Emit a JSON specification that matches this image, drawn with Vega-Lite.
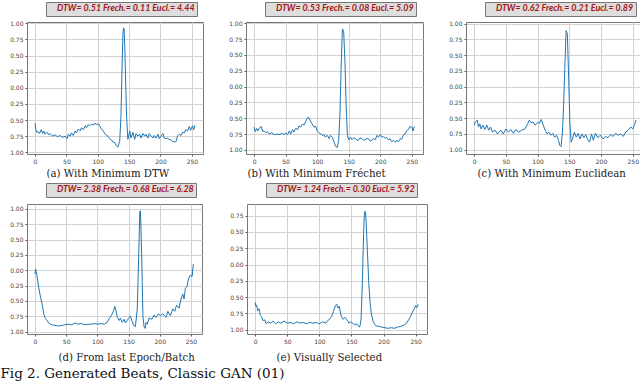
{
  "$schema": "https://vega.github.io/schema/vega-lite/v6.json",
  "background": "white",
  "padding": {"left": 0, "top": 1, "right": 0, "bottom": 0},
  "config": {
    "font": "DejaVu Serif",
    "view": {"stroke": "#777777", "strokeWidth": 1},
    "axis": {"grid": true, "gridColor": "#d2d2d2", "gridWidth": 1, "domain": false, "tickSize": 2, "tickColor": "#555555", "labelFont": "DejaVu Sans", "labelFontSize": 6, "labelColor": "#444444", "labelPadding": 2, "titleFont": "DejaVu Serif", "titleFontSize": 10.2, "titleFontWeight": "normal", "titleColor": "#222222", "titleAlign": "left"},
    "axisY": {"minExtent": 18},
    "legend": {"orient": "none", "legendX": 19, "legendY": -20, "title": null, "labelFont": "Lato", "labelFontSize": 8.9, "labelFontStyle": "italic", "labelFontWeight": "bold", "labelColor": "#a31515", "labelLimit": 400, "symbolSize": 0, "symbolOpacity": 0, "symbolStrokeWidth": 0, "labelOffset": 0, "padding": 2, "fillColor": "#dedede", "strokeColor": "#777777"}
  },
  "datasets": {
    "a": [
      {"x":0,"y":-0.55},{"x":2,"y":-0.69},{"x":5,"y":-0.68},{"x":7,"y":-0.71},{"x":10,"y":-0.65},{"x":12,"y":-0.71},{"x":14,"y":-0.67},{"x":16,"y":-0.72},{"x":19,"y":-0.69},{"x":22,"y":-0.73},{"x":24,"y":-0.71},{"x":28,"y":-0.75},{"x":32,"y":-0.73},{"x":36,"y":-0.76},{"x":40,"y":-0.74},{"x":44,"y":-0.77},{"x":48,"y":-0.75},{"x":51,"y":-0.79},{"x":53,"y":-0.72},{"x":56,"y":-0.75},{"x":58,"y":-0.70},{"x":61,"y":-0.74},{"x":64,"y":-0.67},{"x":66,"y":-0.70},{"x":69,"y":-0.64},{"x":72,"y":-0.67},{"x":74,"y":-0.62},{"x":77,"y":-0.65},{"x":80,"y":-0.59},{"x":82,"y":-0.62},{"x":85,"y":-0.57},{"x":87,"y":-0.59},{"x":90,"y":-0.56},{"x":93,"y":-0.58},{"x":95,"y":-0.55},{"x":98,"y":-0.57},{"x":101,"y":-0.56},{"x":103,"y":-0.59},{"x":106,"y":-0.64},{"x":109,"y":-0.67},{"x":111,"y":-0.71},{"x":114,"y":-0.73},{"x":116,"y":-0.75},{"x":119,"y":-0.79},{"x":122,"y":-0.81},{"x":124,"y":-0.84},{"x":127,"y":-0.85},{"x":130,"y":-0.90},{"x":132,"y":-0.92},{"x":135,"y":-0.83},{"x":137,"y":-0.44},{"x":139,"y":0.40},{"x":140,"y":0.80},{"x":141,"y":0.93},{"x":142,"y":0.91},{"x":143,"y":0.65},{"x":145,"y":-0.10},{"x":146,"y":-0.45},{"x":148,"y":-0.80},{"x":151,"y":-0.67},{"x":153,"y":-0.78},{"x":156,"y":-0.69},{"x":159,"y":-0.80},{"x":161,"y":-0.71},{"x":164,"y":-0.75},{"x":167,"y":-0.72},{"x":169,"y":-0.78},{"x":172,"y":-0.71},{"x":175,"y":-0.75},{"x":177,"y":-0.72},{"x":180,"y":-0.78},{"x":182,"y":-0.71},{"x":185,"y":-0.75},{"x":188,"y":-0.78},{"x":190,"y":-0.74},{"x":193,"y":-0.78},{"x":196,"y":-0.72},{"x":198,"y":-0.79},{"x":201,"y":-0.75},{"x":204,"y":-0.71},{"x":206,"y":-0.78},{"x":209,"y":-0.79},{"x":211,"y":-0.78},{"x":214,"y":-0.80},{"x":217,"y":-0.81},{"x":219,"y":-0.83},{"x":222,"y":-0.84},{"x":225,"y":-0.83},{"x":227,"y":-0.75},{"x":230,"y":-0.72},{"x":233,"y":-0.74},{"x":235,"y":-0.69},{"x":238,"y":-0.70},{"x":240,"y":-0.65},{"x":243,"y":-0.67},{"x":246,"y":-0.60},{"x":248,"y":-0.66},{"x":251,"y":-0.59},{"x":253,"y":-0.65},{"x":255,"y":-0.58}
    ],
    "b": [
      {"x":0,"y":-0.64},{"x":2,"y":-0.71},{"x":4,"y":-0.66},{"x":6,"y":-0.70},{"x":8,"y":-0.66},{"x":11,"y":-0.63},{"x":14,"y":-0.71},{"x":16,"y":-0.70},{"x":19,"y":-0.73},{"x":21,"y":-0.71},{"x":24,"y":-0.75},{"x":28,"y":-0.73},{"x":32,"y":-0.76},{"x":36,"y":-0.75},{"x":40,"y":-0.76},{"x":44,"y":-0.74},{"x":48,"y":-0.76},{"x":50,"y":-0.73},{"x":53,"y":-0.76},{"x":56,"y":-0.70},{"x":58,"y":-0.75},{"x":61,"y":-0.68},{"x":63,"y":-0.72},{"x":66,"y":-0.66},{"x":69,"y":-0.68},{"x":71,"y":-0.62},{"x":74,"y":-0.64},{"x":77,"y":-0.59},{"x":79,"y":-0.61},{"x":82,"y":-0.55},{"x":84,"y":-0.51},{"x":86,"y":-0.48},{"x":88,"y":-0.51},{"x":90,"y":-0.56},{"x":92,"y":-0.59},{"x":95,"y":-0.64},{"x":98,"y":-0.63},{"x":100,"y":-0.70},{"x":103,"y":-0.73},{"x":106,"y":-0.75},{"x":108,"y":-0.77},{"x":111,"y":-0.76},{"x":113,"y":-0.80},{"x":116,"y":-0.77},{"x":119,"y":-0.82},{"x":121,"y":-0.77},{"x":124,"y":-0.80},{"x":127,"y":-0.88},{"x":129,"y":-0.94},{"x":132,"y":-0.96},{"x":134,"y":-0.85},{"x":136,"y":-0.48},{"x":138,"y":0.31},{"x":140,"y":0.91},{"x":142,"y":0.88},{"x":144,"y":0.41},{"x":146,"y":-0.33},{"x":148,"y":-0.77},{"x":150,"y":-0.84},{"x":153,"y":-0.80},{"x":155,"y":-0.84},{"x":158,"y":-0.81},{"x":161,"y":-0.82},{"x":163,"y":-0.85},{"x":166,"y":-0.84},{"x":168,"y":-0.81},{"x":171,"y":-0.82},{"x":174,"y":-0.85},{"x":176,"y":-0.84},{"x":179,"y":-0.82},{"x":182,"y":-0.83},{"x":184,"y":-0.86},{"x":187,"y":-0.85},{"x":189,"y":-0.82},{"x":192,"y":-0.84},{"x":195,"y":-0.77},{"x":197,"y":-0.80},{"x":200,"y":-0.76},{"x":203,"y":-0.80},{"x":205,"y":-0.79},{"x":208,"y":-0.82},{"x":210,"y":-0.80},{"x":213,"y":-0.84},{"x":216,"y":-0.83},{"x":218,"y":-0.87},{"x":221,"y":-0.85},{"x":224,"y":-0.88},{"x":226,"y":-0.85},{"x":229,"y":-0.87},{"x":232,"y":-0.82},{"x":234,"y":-0.83},{"x":237,"y":-0.76},{"x":239,"y":-0.75},{"x":242,"y":-0.70},{"x":245,"y":-0.67},{"x":247,"y":-0.63},{"x":250,"y":-0.64},{"x":252,"y":-0.70},{"x":254,"y":-0.63}
    ],
    "c": [
      {"x":0,"y":-0.61},{"x":2,"y":-0.56},{"x":5,"y":-0.53},{"x":7,"y":-0.64},{"x":9,"y":-0.59},{"x":11,"y":-0.67},{"x":14,"y":-0.61},{"x":17,"y":-0.68},{"x":20,"y":-0.61},{"x":23,"y":-0.69},{"x":26,"y":-0.64},{"x":29,"y":-0.72},{"x":33,"y":-0.69},{"x":37,"y":-0.75},{"x":42,"y":-0.69},{"x":46,"y":-0.75},{"x":50,"y":-0.67},{"x":54,"y":-0.72},{"x":58,"y":-0.68},{"x":62,"y":-0.74},{"x":66,"y":-0.68},{"x":70,"y":-0.72},{"x":75,"y":-0.69},{"x":80,"y":-0.67},{"x":84,"y":-0.60},{"x":87,"y":-0.53},{"x":90,"y":-0.57},{"x":93,"y":-0.56},{"x":96,"y":-0.61},{"x":100,"y":-0.57},{"x":103,"y":-0.58},{"x":106,"y":-0.52},{"x":109,"y":-0.61},{"x":112,"y":-0.69},{"x":115,"y":-0.75},{"x":118,"y":-0.72},{"x":121,"y":-0.77},{"x":124,"y":-0.74},{"x":127,"y":-0.80},{"x":130,"y":-0.77},{"x":133,"y":-0.85},{"x":135,"y":-0.93},{"x":137,"y":-0.95},{"x":139,"y":-0.75},{"x":141,"y":-0.32},{"x":143,"y":0.31},{"x":145,"y":0.89},{"x":147,"y":0.84},{"x":149,"y":0.15},{"x":151,"y":-0.59},{"x":153,"y":-0.88},{"x":155,"y":-0.83},{"x":158,"y":-0.72},{"x":161,"y":-0.80},{"x":164,"y":-0.74},{"x":167,"y":-0.83},{"x":170,"y":-0.75},{"x":173,"y":-0.81},{"x":176,"y":-0.76},{"x":179,"y":-0.84},{"x":182,"y":-0.88},{"x":185,"y":-0.75},{"x":188,"y":-0.85},{"x":191,"y":-0.74},{"x":195,"y":-0.81},{"x":199,"y":-0.77},{"x":203,"y":-0.83},{"x":207,"y":-0.79},{"x":211,"y":-0.81},{"x":215,"y":-0.76},{"x":219,"y":-0.79},{"x":223,"y":-0.74},{"x":227,"y":-0.77},{"x":231,"y":-0.75},{"x":235,"y":-0.79},{"x":239,"y":-0.72},{"x":243,"y":-0.69},{"x":247,"y":-0.64},{"x":250,"y":-0.67},{"x":253,"y":-0.60},{"x":255,"y":-0.53}
    ],
    "d": [
      {"x":0,"y":-0.06},{"x":1,"y":0.02},{"x":2,"y":-0.02},{"x":4,"y":-0.14},{"x":6,"y":-0.28},{"x":9,"y":-0.44},{"x":12,"y":-0.58},{"x":14,"y":-0.71},{"x":16,"y":-0.77},{"x":18,"y":-0.80},{"x":22,"y":-0.86},{"x":27,"y":-0.89},{"x":32,"y":-0.90},{"x":38,"y":-0.91},{"x":43,"y":-0.90},{"x":48,"y":-0.89},{"x":53,"y":-0.88},{"x":59,"y":-0.89},{"x":64,"y":-0.86},{"x":69,"y":-0.88},{"x":74,"y":-0.87},{"x":80,"y":-0.89},{"x":85,"y":-0.88},{"x":90,"y":-0.88},{"x":95,"y":-0.87},{"x":101,"y":-0.88},{"x":106,"y":-0.87},{"x":111,"y":-0.88},{"x":115,"y":-0.86},{"x":119,"y":-0.79},{"x":123,"y":-0.73},{"x":126,"y":-0.66},{"x":128,"y":-0.59},{"x":130,"y":-0.66},{"x":132,"y":-0.77},{"x":135,"y":-0.82},{"x":137,"y":-0.78},{"x":140,"y":-0.85},{"x":143,"y":-0.80},{"x":145,"y":-0.86},{"x":148,"y":-0.82},{"x":150,"y":-0.78},{"x":153,"y":-0.75},{"x":156,"y":-0.84},{"x":158,"y":-0.90},{"x":161,"y":-0.92},{"x":164,"y":-0.63},{"x":165,"y":-0.25},{"x":167,"y":0.51},{"x":168,"y":0.95},{"x":169,"y":0.97},{"x":170,"y":0.67},{"x":172,"y":-0.20},{"x":173,"y":-0.74},{"x":175,"y":-0.93},{"x":177,"y":-0.95},{"x":178,"y":-0.85},{"x":180,"y":-0.88},{"x":183,"y":-0.78},{"x":187,"y":-0.80},{"x":191,"y":-0.73},{"x":194,"y":-0.77},{"x":198,"y":-0.71},{"x":201,"y":-0.74},{"x":205,"y":-0.71},{"x":210,"y":-0.77},{"x":213,"y":-0.67},{"x":217,"y":-0.74},{"x":221,"y":-0.63},{"x":224,"y":-0.67},{"x":227,"y":-0.57},{"x":231,"y":-0.62},{"x":234,"y":-0.47},{"x":237,"y":-0.39},{"x":239,"y":-0.47},{"x":241,"y":-0.30},{"x":244,"y":-0.26},{"x":246,"y":-0.14},{"x":249,"y":-0.08},{"x":252,"y":-0.10},{"x":253,"y":0.02},{"x":254,"y":0.10}
    ],
    "e": [
      {"x":0,"y":-0.58},{"x":1,"y":-0.64},{"x":2,"y":-0.62},{"x":4,"y":-0.71},{"x":6,"y":-0.68},{"x":8,"y":-0.78},{"x":10,"y":-0.80},{"x":12,"y":-0.86},{"x":15,"y":-0.85},{"x":17,"y":-0.91},{"x":20,"y":-0.88},{"x":24,"y":-0.90},{"x":28,"y":-0.87},{"x":32,"y":-0.91},{"x":36,"y":-0.88},{"x":40,"y":-0.90},{"x":45,"y":-0.87},{"x":50,"y":-0.90},{"x":55,"y":-0.89},{"x":60,"y":-0.91},{"x":65,"y":-0.88},{"x":70,"y":-0.90},{"x":75,"y":-0.89},{"x":80,"y":-0.91},{"x":85,"y":-0.89},{"x":90,"y":-0.90},{"x":95,"y":-0.89},{"x":100,"y":-0.91},{"x":105,"y":-0.88},{"x":110,"y":-0.90},{"x":113,"y":-0.86},{"x":116,"y":-0.84},{"x":119,"y":-0.80},{"x":122,"y":-0.72},{"x":125,"y":-0.63},{"x":127,"y":-0.61},{"x":129,"y":-0.67},{"x":131,"y":-0.64},{"x":134,"y":-0.79},{"x":137,"y":-0.84},{"x":140,"y":-0.81},{"x":143,"y":-0.85},{"x":146,"y":-0.90},{"x":149,"y":-0.88},{"x":152,"y":-0.90},{"x":155,"y":-0.93},{"x":158,"y":-0.91},{"x":161,"y":-0.95},{"x":163,"y":-0.96},{"x":165,"y":-0.84},{"x":167,"y":-0.28},{"x":169,"y":0.49},{"x":170,"y":0.74},{"x":171,"y":0.82},{"x":172,"y":0.80},{"x":173,"y":0.64},{"x":175,"y":0.18},{"x":177,"y":-0.28},{"x":179,"y":-0.58},{"x":181,"y":-0.76},{"x":184,"y":-0.88},{"x":188,"y":-0.94},{"x":192,"y":-0.95},{"x":197,"y":-0.96},{"x":202,"y":-0.97},{"x":207,"y":-0.98},{"x":212,"y":-0.97},{"x":217,"y":-0.98},{"x":222,"y":-0.96},{"x":227,"y":-0.95},{"x":232,"y":-0.93},{"x":236,"y":-0.90},{"x":239,"y":-0.85},{"x":242,"y":-0.80},{"x":245,"y":-0.73},{"x":248,"y":-0.68},{"x":250,"y":-0.63},{"x":252,"y":-0.66},{"x":254,"y":-0.61}
    ]
  },
  "title": {"text": "Fig 2. Generated Beats, Classic GAN (01)", "orient": "bottom", "anchor": "start", "fontSize": 13.5, "fontWeight": "normal", "font": "DejaVu Serif", "color": "#111111", "offset": 4},
  "spacing": 2,
  "vconcat": [
    {
      "spacing": 23,
      "resolve": {"scale": {"color": "independent", "x": "independent", "y": "independent"}, "legend": {"color": "independent"}},
      "hconcat": [
        {
          "width": 176, "height": 132,
          "data": {"name": "a"},
          "mark": {"type": "line", "strokeWidth": 1},
          "encoding": {
            "x": {"field": "x", "type": "quantitative", "scale": {"domain": [-12.75, 267.75], "nice": false, "zero": false}, "axis": {"values": [0, 50, 100, 150, 200, 250], "title": "(a) With Minimum DTW", "titlePadding": 4.5, "titleX": 19}},
            "y": {"field": "y", "type": "quantitative", "scale": {"domain": [-1.027, 1.02], "nice": false, "zero": false}, "axis": {"values": [-1, -0.75, -0.5, -0.25, 0, 0.25, 0.5, 0.75, 1], "labelExpr": "format(abs(datum.value), '.2f')", "title": null, "minExtent": 26}},
            "color": {"datum": "DTW= 0.51 Frech.= 0.11 Eucl.= 4.44", "type": "nominal", "scale": {"range": ["#1f77b4"]}}
          }
        },
        {
          "width": 177, "height": 132,
          "data": {"name": "b"},
          "mark": {"type": "line", "strokeWidth": 1},
          "encoding": {
            "x": {"field": "x", "type": "quantitative", "scale": {"domain": [-12.75, 267.75], "nice": false, "zero": false}, "axis": {"values": [0, 50, 100, 150, 200, 250], "title": "(b) With Minimum Fréchet", "titlePadding": 4.5, "titleX": 1}},
            "y": {"field": "y", "type": "quantitative", "scale": {"domain": [-1.065, 1.02], "nice": false, "zero": false}, "axis": {"values": [-1, -0.75, -0.5, -0.25, 0, 0.25, 0.5, 0.75, 1], "labelExpr": "format(abs(datum.value), '.2f')", "title": null}},
            "color": {"datum": "DTW= 0.53 Frech.= 0.08 Eucl.= 5.09", "type": "nominal", "scale": {"range": ["#1f77b4"]}}
          }
        },
        {
          "width": 178, "height": 132,
          "data": {"name": "c"},
          "mark": {"type": "line", "strokeWidth": 1},
          "encoding": {
            "x": {"field": "x", "type": "quantitative", "scale": {"domain": [-12.75, 267.75], "nice": false, "zero": false}, "axis": {"values": [0, 50, 100, 150, 200, 250], "title": "(c) With Minimum Euclidean", "titlePadding": 4.5, "titleX": 11}},
            "y": {"field": "y", "type": "quantitative", "scale": {"domain": [-1.068, 1.027], "nice": false, "zero": false}, "axis": {"values": [-1, -0.75, -0.5, -0.25, 0, 0.25, 0.5, 0.75, 1], "labelExpr": "format(abs(datum.value), '.2f')", "title": null}},
            "color": {"datum": "DTW= 0.62 Frech.= 0.21 Eucl.= 0.89", "type": "nominal", "scale": {"range": ["#1f77b4"]}}
          }
        }
      ]
    },
    {
      "spacing": 25,
      "resolve": {"scale": {"color": "independent", "x": "independent", "y": "independent"}, "legend": {"color": "independent"}},
      "hconcat": [
        {
          "width": 175, "height": 130,
          "data": {"name": "d"},
          "mark": {"type": "line", "strokeWidth": 1},
          "encoding": {
            "x": {"field": "x", "type": "quantitative", "scale": {"domain": [-12.75, 267.75], "nice": false, "zero": false}, "axis": {"values": [0, 50, 100, 150, 200, 250], "title": "(d) From last Epoch/Batch", "titlePadding": 8.5, "titleX": 31}},
            "y": {"field": "y", "type": "quantitative", "scale": {"domain": [-1.04, 1.08], "nice": false, "zero": false}, "axis": {"values": [-1, -0.75, -0.5, -0.25, 0, 0.25, 0.5, 0.75, 1], "labelExpr": "format(abs(datum.value), '.2f')", "title": null, "minExtent": 26}},
            "color": {"datum": "DTW= 2.38 Frech.= 0.68 Eucl.= 6.28", "type": "nominal", "scale": {"range": ["#1f77b4"]}, "legend": {"legendY": -21}}
          }
        },
        {
          "width": 180, "height": 130,
          "data": {"name": "e"},
          "mark": {"type": "line", "strokeWidth": 1},
          "encoding": {
            "x": {"field": "x", "type": "quantitative", "scale": {"domain": [-12.75, 267.75], "nice": false, "zero": false}, "axis": {"values": [0, 50, 100, 150, 200, 250], "title": "(e) Visually Selected", "titlePadding": 8.5, "titleX": 29}},
            "y": {"field": "y", "type": "quantitative", "scale": {"domain": [-1.067, 0.93], "nice": false, "zero": false}, "axis": {"values": [-1, -0.75, -0.5, -0.25, 0, 0.25, 0.5, 0.75], "labelExpr": "format(abs(datum.value), '.2f')", "title": null}},
            "color": {"datum": "DTW= 1.24 Frech.= 0.30 Eucl.= 5.92", "type": "nominal", "scale": {"range": ["#1f77b4"]}, "legend": {"legendY": -21}}
          }
        }
      ]
    }
  ]
}
